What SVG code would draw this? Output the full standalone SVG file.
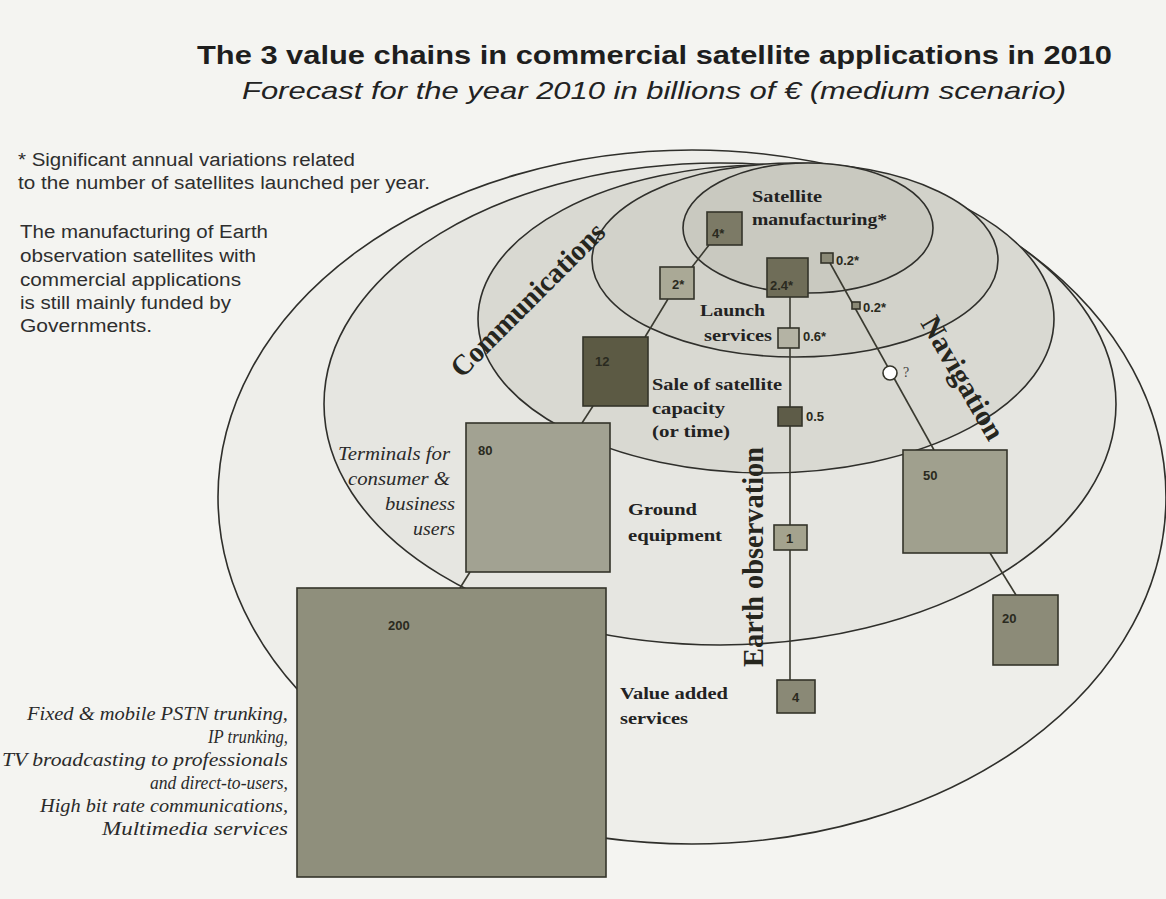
<svg xmlns="http://www.w3.org/2000/svg" width="1166" height="899" viewBox="0 0 1166 899">
<style>
.ell{stroke:#2f2f2b;stroke-width:1.6}
.bx{stroke:#34342a;stroke-width:1.6}
.cn{stroke:#3a3a30;stroke-width:1.6;fill:none}
.num{font-family:"Liberation Sans",Arial,sans-serif;font-weight:bold;font-size:13px;fill:#2a2a20}
.ser{font-family:"Liberation Serif","Times New Roman",serif;font-weight:bold;font-size:17px;fill:#222}
.ita{font-family:"Liberation Serif","Times New Roman",serif;font-style:italic;font-size:18px;fill:#2a2a2a}
.note{font-family:"Liberation Sans",Arial,sans-serif;font-size:18px;fill:#2e2e2e}
.big{font-family:"Liberation Serif","Times New Roman",serif;font-weight:bold;font-size:29px;fill:#26261e}
</style>
<rect x="0" y="0" width="1166" height="899" fill="#f4f4f1"/>
<g id="title">
<text x="197" y="64" font-family="Liberation Sans, Arial, sans-serif" font-weight="bold" font-size="25" fill="#1e1e1e" textLength="915" lengthAdjust="spacingAndGlyphs">The 3 value chains in commercial satellite applications in 2010</text>
<text x="242" y="99" font-family="Liberation Sans, Arial, sans-serif" font-style="italic" font-size="24" fill="#222" textLength="824" lengthAdjust="spacingAndGlyphs">Forecast for the year 2010 in billions of € (medium scenario)</text>
</g>
<g id="notes">
<text class="note" x="18" y="166" textLength="337" lengthAdjust="spacingAndGlyphs">* Significant annual variations related</text>
<text class="note" x="18" y="189" textLength="412" lengthAdjust="spacingAndGlyphs">to the number of satellites launched per year.</text>
<text class="note" x="20" y="238" textLength="248" lengthAdjust="spacingAndGlyphs">The manufacturing of Earth</text>
<text class="note" x="20" y="262" textLength="236" lengthAdjust="spacingAndGlyphs">observation satellites with</text>
<text class="note" x="20" y="286" textLength="221" lengthAdjust="spacingAndGlyphs">commercial applications</text>
<text class="note" x="20" y="309" textLength="211" lengthAdjust="spacingAndGlyphs">is still mainly funded by</text>
<text class="note" x="20" y="332" textLength="132" lengthAdjust="spacingAndGlyphs">Governments.</text>
</g>
<g id="regions">
<ellipse id="value-added-services" class="ell" cx="692" cy="497" rx="474" ry="347" fill="#eeeeea"/>
<ellipse id="ground-equipment" class="ell" cx="720" cy="404" rx="396" ry="241" fill="#e6e6e1"/>
<ellipse id="satellite-capacity" class="ell" cx="766" cy="319" rx="288" ry="154" fill="#d9d9d2"/>
<ellipse id="launch-services" class="ell" cx="795" cy="260" rx="203" ry="97" fill="#d2d2ca"/>
<ellipse id="satellite-manufacturing" class="ell" cx="808" cy="228" rx="125" ry="65" fill="#c9c9c0"/>
</g>
<g id="connectors">
<line class="cn" x1="709" y1="245" x2="692" y2="267"/>
<line class="cn" x1="668" y1="299" x2="645" y2="337"/>
<line class="cn" x1="593" y1="406" x2="582" y2="423"/>
<line class="cn" x1="470" y1="572" x2="460" y2="588"/>
<line class="cn" x1="790" y1="297" x2="790" y2="680"/>
<line class="cn" x1="830" y1="263" x2="934" y2="450"/>
<line class="cn" x1="990" y1="553" x2="1016" y2="595"/>
</g>
<g id="node-comm-manuf"><rect class="bx" x="707" y="212" width="35" height="33" fill="#7c7a66"/><text class="num" x="712" y="238" font-size="14" fill="#4a4838">4*</text></g>
<g id="node-comm-launch"><rect class="bx" x="660" y="267" width="34" height="32" fill="#aaa996"/><text class="num" x="672" y="289" font-size="14" fill="#3a3a2e">2*</text></g>
<g id="node-comm-capacity"><rect class="bx" x="583" y="337" width="65" height="69" fill="#5c5a44"/><text class="num" x="595" y="366" font-size="14" fill="#74725a">12</text></g>
<g id="node-comm-ground"><rect class="bx" x="466" y="423" width="144" height="149" fill="#a2a292"/><text class="num" x="478" y="455">80</text></g>
<g id="node-comm-services"><rect class="bx" x="297" y="588" width="309" height="289" fill="#8f8f7c"/><text class="num" x="388" y="630" font-size="14">200</text></g>
<g id="node-eo-manuf"><rect class="bx" x="767" y="258" width="41" height="39" fill="#6f6d58"/><text class="num" x="770" y="290" font-size="14" fill="#3a3828">2.4*</text></g>
<g id="node-eo-launch"><rect class="bx" x="778" y="328" width="21" height="20" fill="#b4b3a4"/><text class="num" x="803" y="341">0.6*</text></g>
<g id="node-eo-capacity"><rect class="bx" x="778" y="407" width="24" height="19" fill="#5e5c48"/><text class="num" x="806" y="421">0.5</text></g>
<g id="node-eo-ground"><rect class="bx" x="774" y="525" width="33" height="25" fill="#a4a38e"/><text class="num" x="786" y="543" fill="#4a4838">1</text></g>
<g id="node-eo-services"><rect class="bx" x="777" y="680" width="38" height="33" fill="#8a8976"/><text class="num" x="792" y="702" fill="#4a4838">4</text></g>
<g id="node-nav-manuf"><rect class="bx" x="821" y="253" width="12" height="10" fill="#8a8976"/><text class="num" x="836" y="265">0.2*</text></g>
<g id="node-nav-launch"><rect class="bx" x="852" y="302" width="8" height="7" fill="#8a8976"/><text class="num" x="863" y="312">0.2*</text></g>
<g id="node-nav-capacity"><circle class="bx" cx="890" cy="373" r="7" fill="#ffffff"/><text x="903" y="377" font-family="Liberation Serif, serif" font-size="14" fill="#444">?</text></g>
<g id="node-nav-ground"><rect class="bx" x="903" y="450" width="104" height="103" fill="#a0a08e"/><text class="num" x="923" y="480">50</text></g>
<g id="node-nav-services"><rect class="bx" x="993" y="595" width="65" height="70" fill="#8c8b78"/><text class="num" x="1002" y="623">20</text></g>
<g id="labels">
<text class="ser" x="752" y="202" textLength="70" lengthAdjust="spacingAndGlyphs">Satellite</text>
<text class="ser" x="752" y="225" textLength="135" lengthAdjust="spacingAndGlyphs">manufacturing*</text>
<text class="ser" x="700" y="316" textLength="65" lengthAdjust="spacingAndGlyphs">Launch</text>
<text class="ser" x="704" y="341" textLength="68" lengthAdjust="spacingAndGlyphs">services</text>
<text class="ser" x="652" y="390" font-size="18" textLength="130" lengthAdjust="spacingAndGlyphs">Sale of satellite</text>
<text class="ser" x="652" y="414" font-size="18" textLength="73" lengthAdjust="spacingAndGlyphs">capacity</text>
<text class="ser" x="652" y="437" font-size="18" textLength="78" lengthAdjust="spacingAndGlyphs">(or time)</text>
<text class="ser" x="628" y="515" font-size="18" textLength="69" lengthAdjust="spacingAndGlyphs">Ground</text>
<text class="ser" x="628" y="541" font-size="18" textLength="94" lengthAdjust="spacingAndGlyphs">equipment</text>
<text class="ser" x="620" y="699" font-size="18" textLength="108" lengthAdjust="spacingAndGlyphs">Value added</text>
<text class="ser" x="620" y="724" font-size="18" textLength="68" lengthAdjust="spacingAndGlyphs">services</text>
<text class="ita" x="338" y="460" textLength="112" lengthAdjust="spacingAndGlyphs">Terminals for</text>
<text class="ita" x="348" y="485" textLength="102" lengthAdjust="spacingAndGlyphs">consumer &amp;</text>
<text class="ita" x="385" y="510" textLength="70" lengthAdjust="spacingAndGlyphs">business</text>
<text class="ita" x="413" y="535" textLength="42" lengthAdjust="spacingAndGlyphs">users</text>
<text class="ita" x="27" y="720" textLength="261" lengthAdjust="spacingAndGlyphs">Fixed &amp; mobile PSTN trunking,</text>
<text class="ita" x="208" y="743" textLength="80" lengthAdjust="spacingAndGlyphs">IP trunking,</text>
<text class="ita" x="2" y="766" textLength="286" lengthAdjust="spacingAndGlyphs">TV broadcasting to professionals</text>
<text class="ita" x="150" y="789" textLength="138" lengthAdjust="spacingAndGlyphs">and direct-to-users,</text>
<text class="ita" x="40" y="812" textLength="248" lengthAdjust="spacingAndGlyphs">High bit rate communications,</text>
<text class="ita" x="102" y="835" textLength="186" lengthAdjust="spacingAndGlyphs">Multimedia services</text>
<text class="big" transform="translate(462 379) rotate(-45)" textLength="205" lengthAdjust="spacingAndGlyphs">Communications</text>
<text class="big" transform="translate(920 323) rotate(60)" textLength="138" lengthAdjust="spacingAndGlyphs">Navigation</text>
<text class="big" transform="translate(763 667) rotate(-90)" textLength="220" lengthAdjust="spacingAndGlyphs">Earth observation</text>
</g>
</svg>
